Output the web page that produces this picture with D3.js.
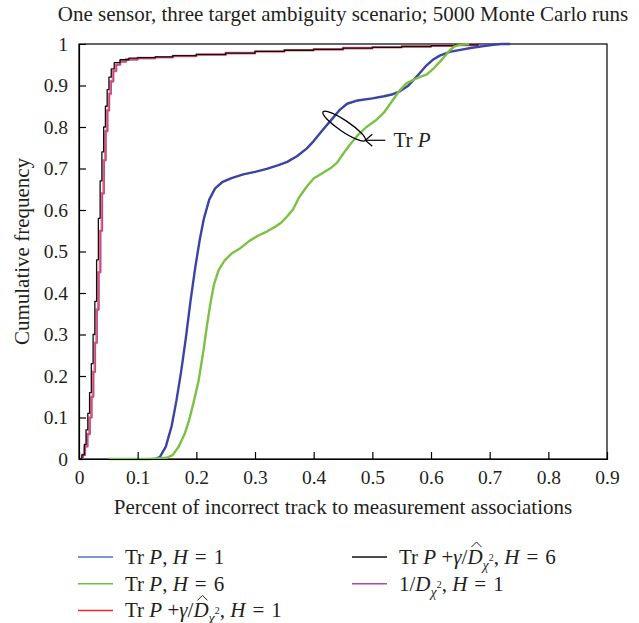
<!DOCTYPE html>
<html>
<head>
<meta charset="utf-8">
<script src="https://cdn.jsdelivr.net/npm/d3@7"></script>
<style>
  body { margin: 0; background: #fff; }
  text { font-family: "Liberation Serif", "DejaVu Serif", serif; fill: #231f20; }
</style>
</head>
<body>
<script>
// x ticks / y ticks
const xTicks = [0, 0.1, 0.2, 0.3, 0.4, 0.5, 0.6, 0.7, 0.8, 0.9];
const yTicks = [0, 0.1, 0.2, 0.3, 0.4, 0.5, 0.6, 0.7, 0.8, 0.9, 1];
const yTickLabels = ['0', '0.1', '0.2', '0.3', '0.4', '0.5', '0.6', '0.7', '0.8', '0.9', '1'];

// Tr P, H = 1
const blueX = [0.13, 0.138, 0.148, 0.158, 0.166, 0.174, 0.182, 0.19, 0.198, 0.206, 0.213, 0.222, 0.232, 0.245, 0.26, 0.28, 0.3, 0.32, 0.34, 0.355, 0.372, 0.388, 0.4, 0.415, 0.433, 0.445, 0.457, 0.475, 0.5, 0.52, 0.535, 0.547, 0.56, 0.57, 0.581, 0.592, 0.603, 0.615, 0.632, 0.65, 0.67, 0.69, 0.706, 0.72, 0.735];
const blueY = [0, 0.005, 0.03, 0.08, 0.14, 0.21, 0.29, 0.38, 0.46, 0.53, 0.58, 0.625, 0.652, 0.668, 0.677, 0.686, 0.692, 0.699, 0.708, 0.716, 0.73, 0.748, 0.766, 0.792, 0.822, 0.842, 0.856, 0.864, 0.869, 0.874, 0.879, 0.886, 0.898, 0.913, 0.93, 0.948, 0.962, 0.972, 0.981, 0.986, 0.991, 0.995, 0.998, 1, 1];

// Tr P, H = 6
const greenX = [0.05, 0.12, 0.15, 0.16, 0.17, 0.18, 0.188, 0.196, 0.204, 0.212, 0.218, 0.224, 0.23, 0.238, 0.248, 0.26, 0.275, 0.29, 0.305, 0.32, 0.335, 0.345, 0.355, 0.365, 0.375, 0.388, 0.4, 0.416, 0.43, 0.44, 0.45, 0.462, 0.475, 0.49, 0.505, 0.52, 0.535, 0.547, 0.558, 0.569, 0.58, 0.593, 0.605, 0.615, 0.625, 0.632, 0.64, 0.649, 0.665];
const greenY = [0, 0, 0.003, 0.01, 0.03, 0.06, 0.095, 0.14, 0.19, 0.26, 0.32, 0.375, 0.42, 0.455, 0.478, 0.495, 0.508, 0.525, 0.538, 0.548, 0.56, 0.57, 0.585, 0.602, 0.63, 0.656, 0.676, 0.69, 0.702, 0.714, 0.735, 0.758, 0.78, 0.8, 0.815, 0.835, 0.865, 0.889, 0.905, 0.913, 0.92, 0.927, 0.942, 0.957, 0.973, 0.985, 0.994, 0.998, 1];

// Tr P + gamma/D, H = 1
const redX = [0, 0.006, 0.01, 0.014, 0.018, 0.021, 0.024, 0.027, 0.03, 0.033, 0.036, 0.039, 0.042, 0.045, 0.048, 0.051, 0.054, 0.058, 0.063, 0.07, 0.08, 0.1, 0.13, 0.16, 0.2, 0.25, 0.3, 0.35, 0.4, 0.45, 0.5, 0.55, 0.6, 0.64, 0.68];
const redY = [0, 0.01, 0.03, 0.06, 0.1, 0.15, 0.21, 0.28, 0.36, 0.45, 0.55, 0.64, 0.72, 0.79, 0.84, 0.88, 0.91, 0.935, 0.95, 0.958, 0.963, 0.966, 0.968, 0.971, 0.974, 0.978, 0.982, 0.985, 0.987, 0.99, 0.992, 0.994, 0.996, 0.998, 1];

// Tr P + gamma/D, H = 6
const blackX = [0, 0.005, 0.009, 0.012, 0.015, 0.018, 0.021, 0.024, 0.027, 0.03, 0.033, 0.036, 0.039, 0.042, 0.045, 0.048, 0.051, 0.055, 0.06, 0.07, 0.085, 0.1, 0.13, 0.16, 0.2, 0.25, 0.3, 0.35, 0.4, 0.45, 0.5, 0.55, 0.6, 0.64, 0.68];
const blackY = [0, 0.01, 0.035, 0.07, 0.11, 0.16, 0.23, 0.3, 0.38, 0.48, 0.58, 0.67, 0.74, 0.8, 0.85, 0.89, 0.92, 0.94, 0.955, 0.962, 0.966, 0.967, 0.969, 0.972, 0.975, 0.978, 0.982, 0.985, 0.987, 0.99, 0.992, 0.994, 0.996, 0.998, 1];

// 1/D, H = 1
const purpleX = [0, 0.007, 0.011, 0.015, 0.019, 0.022, 0.025, 0.028, 0.031, 0.034, 0.037, 0.04, 0.043, 0.046, 0.049, 0.052, 0.055, 0.059, 0.064, 0.07, 0.08, 0.1, 0.13, 0.16, 0.2, 0.25, 0.3, 0.35, 0.4, 0.45, 0.5, 0.55, 0.6, 0.64, 0.69];
const purpleY = [0, 0.01, 0.03, 0.06, 0.1, 0.15, 0.21, 0.28, 0.36, 0.45, 0.55, 0.64, 0.72, 0.79, 0.84, 0.88, 0.91, 0.935, 0.95, 0.957, 0.962, 0.966, 0.968, 0.971, 0.974, 0.978, 0.982, 0.985, 0.987, 0.99, 0.992, 0.994, 0.996, 0.998, 1];

const series = [
  {name: 'red', xs: redX, ys: redY, color: '#e8505e', width: 2.6, step: true, opacity: 0.85},
  {name: 'purple', xs: purpleX, ys: purpleY, color: '#b8479c', width: 1.1, step: true, opacity: 1},
  {name: 'black', xs: blackX, ys: blackY, color: '#111', width: 1.3, step: true, opacity: 1},
  {name: 'blue', xs: blueX, ys: blueY, color: '#3a44a4', width: 2.4, step: false, opacity: 1},
  {name: 'green', xs: greenX, ys: greenY, color: '#7bc143', width: 2.4, step: false, opacity: 1}
];

const width = 639, height = 623;
const margin = {top: 44, right: 32, bottom: 164, left: 79};

const svg = d3.select('body').append('svg')
  .attr('width', width)
  .attr('height', height);

const x = d3.scaleLinear().domain([0, 0.9]).range([margin.left, width - margin.right]);
const y = d3.scaleLinear().domain([0, 1]).range([height - margin.bottom, margin.top]);

// title
svg.append('text')
  .attr('x', 343).attr('y', 21)
  .attr('text-anchor', 'middle')
  .style('font-size', '21px')
  .text('One sensor, three target ambiguity scenario; 5000 Monte Carlo runs');

// frame
svg.append('rect')
  .attr('x', x(0)).attr('y', y(1))
  .attr('width', x(0.9) - x(0)).attr('height', y(0) - y(1))
  .attr('fill', 'none').attr('stroke', '#000').attr('stroke-width', 1.2);

// curves
series.forEach(s => {
  let pts = s.xs.map((v, i) => [v, s.ys[i]]);
  let line = d3.line()
    .x(d => x(d[0]))
    .y(d => y(d[1]))
    .curve(s.step ? d3.curveStepAfter : d3.curveLinear);
  svg.append('path')
    .datum(pts)
    .attr('fill', 'none')
    .attr('stroke', s.color)
    .attr('stroke-width', s.width)
    .attr('stroke-opacity', s.opacity)
    .attr('stroke-linejoin', 'round')
    .attr('d', line);
});

// axes with inward ticks
let xAxis = svg.append('g')
  .attr('transform', 'translate(0,' + y(0) + ')')
  .call(d3.axisBottom(x).tickValues(xTicks).tickSize(-7).tickPadding(11).tickFormat(d => d === 0 ? '0' : d3.format('.1f')(d)));
let yAxis = svg.append('g')
  .attr('transform', 'translate(' + x(0) + ',0)')
  .call(d3.axisLeft(y).tickValues(yTicks).tickSize(-7).tickPadding(11).tickFormat((d, i) => yTickLabels[i]));

[xAxis, yAxis].forEach(g => {
  g.select('.domain').attr('stroke', '#000').attr('stroke-width', 1.2);
  g.selectAll('.tick line').attr('stroke', '#000').attr('stroke-width', 1.2);
  g.selectAll('.tick text').style('font-size', '19.5px').style('font-family', '"Liberation Serif", serif').attr('fill', '#231f20');
});
xAxis.selectAll('.tick').filter(d => d === 0 || d === 0.9).select('line').remove();
yAxis.selectAll('.tick').filter(d => d === 0 || d === 1).select('line').remove();

// axis titles
svg.append('text')
  .attr('x', x(0.45)).attr('y', 514)
  .attr('text-anchor', 'middle')
  .style('font-size', '21px')
  .text('Percent of incorrect track to measurement associations');

svg.append('text')
  .attr('transform', 'translate(29,' + y(0.5) + ') rotate(-90)')
  .attr('text-anchor', 'middle')
  .style('font-size', '21px')
  .text('Cumulative frequency');

// annotation Tr P
let ann = svg.append('g');
ann.append('ellipse')
  .attr('cx', x(0.452)).attr('cy', y(0.802))
  .attr('rx', 25.5).attr('ry', 5.5)
  .attr('transform', 'rotate(34,' + x(0.452) + ',' + y(0.802) + ')')
  .attr('fill', 'none').attr('stroke', '#000').attr('stroke-width', 1.3);
ann.append('line')
  .attr('x1', x(0.522)).attr('x2', x(0.488))
  .attr('y1', y(0.768)).attr('y2', y(0.768))
  .attr('stroke', '#000').attr('stroke-width', 1.2);
ann.append('path')
  .attr('d', 'M' + (x(0.488) + 7) + ',' + (y(0.768) - 6) + 'L' + x(0.488) + ',' + y(0.768) + 'L' + (x(0.488) + 7) + ',' + (y(0.768) + 6))
  .attr('fill', 'none').attr('stroke', '#000').attr('stroke-width', 1.2);
let annText = ann.append('text')
  .attr('x', x(0.536)).attr('y', y(0.768) + 7)
  .style('font-size', '21px');
annText.append('tspan').text('Tr ');
annText.append('tspan').style('font-style', 'italic').text('P');

// legend
const legendItems = [
  {color: '#5571c9', col: 0, row: 0, parts: [['Tr ', 'n'], ['P', 'i'], [', ', 'n'], ['H', 'i'], ['=', 'eq'], ['1', 'n']]},
  {color: '#6cc03a', col: 0, row: 1, parts: [['Tr ', 'n'], ['P', 'i'], [', ', 'n'], ['H', 'i'], ['=', 'eq'], ['6', 'n']]},
  {color: '#ee2a2a', col: 0, row: 2, parts: [['Tr ', 'n'], ['P', 'i'], [' +', 'n'], ['γ', 'i'], ['/', 'n'], ['D', 'hat'], ['χ', 'sub'], ['2', 'sup'], [',', 'n'], [' ', 'n'], ['H', 'i'], ['=', 'eq'], ['1', 'n']]},
  {color: '#111', col: 1, row: 0, parts: [['Tr ', 'n'], ['P', 'i'], [' +', 'n'], ['γ', 'i'], ['/', 'n'], ['D', 'hat'], ['χ', 'sub'], ['2', 'sup'], [',', 'n'], [' ', 'n'], ['H', 'i'], ['=', 'eq'], ['6', 'n']]},
  {color: '#b04aa6', col: 1, row: 1, parts: [['1/', 'n'], ['D', 'i'], ['χ', 'sub'], ['2', 'sup'], [',', 'n'], [' ', 'n'], ['H', 'i'], ['=', 'eq'], ['1', 'n']]}
];

let legend = svg.append('g');
legendItems.forEach(item => {
  let lx = item.col === 0 ? 78 : 352;
  let ly = 557 + item.row * 26.7;
  legend.append('line')
    .attr('x1', lx).attr('x2', lx + 35)
    .attr('y1', ly).attr('y2', ly)
    .attr('stroke', item.color).attr('stroke-width', 1.5);
  let t = legend.append('text')
    .attr('x', lx + 47).attr('y', ly + 7)
    .style('font-size', '21px');
  let shift = 0;
  item.parts.forEach(p => {
    let ts = t.append('tspan').text(p[0]);
    if (shift !== 0) { ts.attr('dy', -shift); shift = 0; }
    if (p[1] === 'i' || p[1] === 'hat') ts.style('font-style', 'italic');
    if (p[1] === 'sub') { ts.style('font-style', 'italic').style('font-size', '14px').attr('dy', 6); shift = 6; }
    if (p[1] === 'sup') { ts.style('font-size', '10px').attr('dy', -9); shift = -3; }
    if (p[1] === 'eq') ts.attr('dx', 6).attr('dx', 7);
    if (p[1] === 'n' && /^[0-9]$/.test(p[0])) ts.attr('dx', 7);
    if (p[1] === 'hat') ts.attr('class', 'hat');
  });
  // hat over D
  t.selectAll('.hat').each(function() {
    let ext = this.getExtentOfChar ? this.getExtentOfChar(0) : null;
    if (!ext) return;
    let cx = ext.x + ext.width / 2 + 1.5, cy = ext.y - 1;
    legend.append('path')
      .attr('d', 'M' + (cx - 5) + ',' + (cy + 3) + 'L' + cx + ',' + (cy - 2) + 'L' + (cx + 5) + ',' + (cy + 3))
      .attr('fill', 'none').attr('stroke', '#231f20').attr('stroke-width', 1);
  });
});
</script>
</body>
</html>
